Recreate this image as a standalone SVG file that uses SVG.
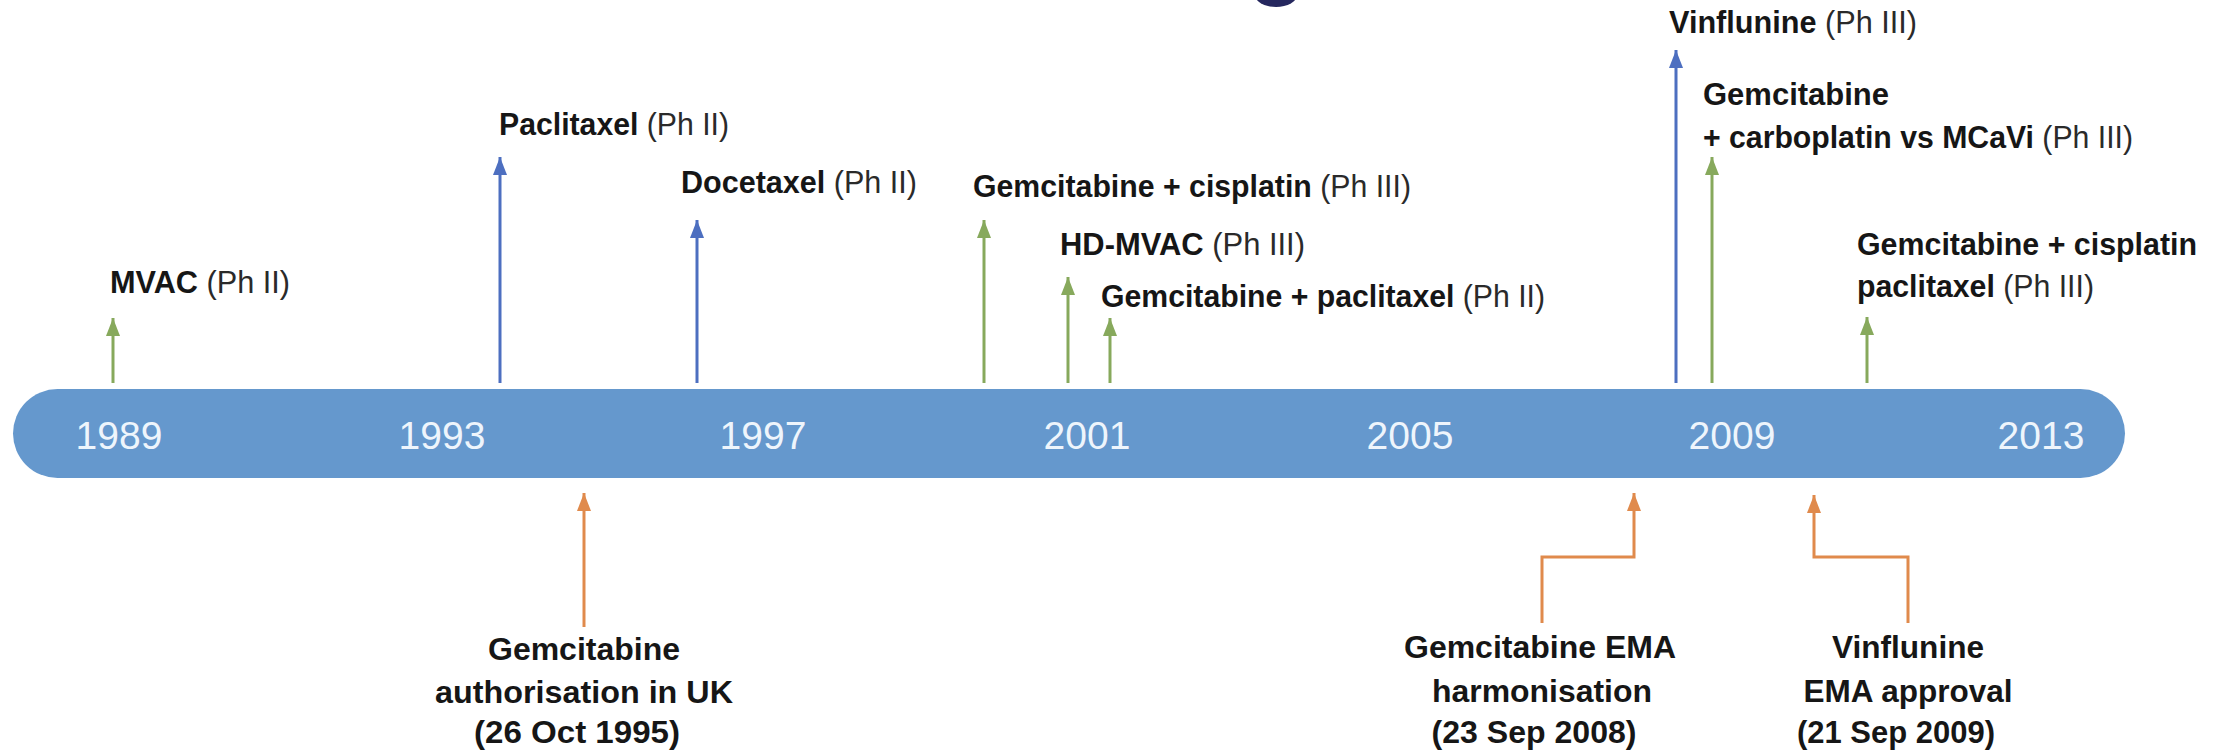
<svg xmlns="http://www.w3.org/2000/svg" width="2220" height="752" viewBox="0 0 2220 752">
<style>
.lbl{font-family:"Liberation Sans",Arial,sans-serif;font-size:31px;fill:#161616}
.b{font-weight:bold}
.r{font-weight:normal;fill:#2a2a2a}
.yr{font-family:"Liberation Sans",Arial,sans-serif;font-size:39px;fill:#eef5fc;text-anchor:middle}
.g{stroke:#87a95c;stroke-width:3;fill:none}
.bl{stroke:#4d6fc0;stroke-width:3;fill:none}
.o{stroke:#e08a4c;stroke-width:3;fill:none}
.mid{text-anchor:middle}
</style>
<defs>
<marker id="mg" markerUnits="userSpaceOnUse" markerWidth="18" markerHeight="14" refX="18" refY="7" orient="auto"><path d="M0,0 L18,7 L0,14 z" fill="#87a95c"/></marker>
<marker id="mb" markerUnits="userSpaceOnUse" markerWidth="18" markerHeight="14" refX="18" refY="7" orient="auto"><path d="M0,0 L18,7 L0,14 z" fill="#4d6fc0"/></marker>
<marker id="mo" markerUnits="userSpaceOnUse" markerWidth="18" markerHeight="14" refX="18" refY="7" orient="auto"><path d="M0,0 L18,7 L0,14 z" fill="#e08a4c"/></marker>
</defs>
<rect width="2220" height="752" fill="#ffffff"/>
<ellipse cx="1276" cy="-5" rx="21" ry="12" fill="#25275e"/>

<g id="timeline">
<rect x="13" y="389" width="2112" height="89" rx="44.5" fill="#6598cd"/>
<text class="yr" x="119" y="449">1989</text>
<text class="yr" x="442" y="449">1993</text>
<text class="yr" x="763" y="449">1997</text>
<text class="yr" x="1087" y="449">2001</text>
<text class="yr" x="1410" y="449">2005</text>
<text class="yr" x="1732" y="449">2009</text>
<text class="yr" x="2041" y="449">2013</text>
</g>

<g id="connectors">
<line class="g" x1="113" y1="383" x2="113" y2="318" marker-end="url(#mg)"/>
<line class="bl" x1="500" y1="383" x2="500" y2="157" marker-end="url(#mb)"/>
<line class="bl" x1="697" y1="383" x2="697" y2="220" marker-end="url(#mb)"/>
<line class="g" x1="984" y1="383" x2="984" y2="220" marker-end="url(#mg)"/>
<line class="g" x1="1068" y1="383" x2="1068" y2="277" marker-end="url(#mg)"/>
<line class="g" x1="1110" y1="383" x2="1110" y2="318" marker-end="url(#mg)"/>
<line class="bl" x1="1676" y1="383" x2="1676" y2="50" marker-end="url(#mb)"/>
<line class="g" x1="1712" y1="383" x2="1712" y2="157" marker-end="url(#mg)"/>
<line class="g" x1="1867" y1="383" x2="1867" y2="317" marker-end="url(#mg)"/>
<line class="o" x1="584" y1="627" x2="584" y2="493" marker-end="url(#mo)"/>
<polyline class="o" points="1542,623 1542,557 1634,557 1634,493" marker-end="url(#mo)"/>
<polyline class="o" points="1908,623 1908,557 1814,557 1814,495" marker-end="url(#mo)"/>
</g>

<g id="n-mvac"><text class="lbl" x="110" y="293" textLength="180" lengthAdjust="spacingAndGlyphs"><tspan class="b">MVAC</tspan><tspan class="r"> (Ph II)</tspan></text></g>
<g id="n-paclitaxel"><text class="lbl" x="499" y="135" textLength="230" lengthAdjust="spacingAndGlyphs"><tspan class="b">Paclitaxel</tspan><tspan class="r"> (Ph II)</tspan></text></g>
<g id="n-docetaxel"><text class="lbl" x="681" y="193" textLength="236" lengthAdjust="spacingAndGlyphs"><tspan class="b">Docetaxel</tspan><tspan class="r"> (Ph II)</tspan></text></g>
<g id="n-gemcis"><text class="lbl" x="973" y="197" textLength="438" lengthAdjust="spacingAndGlyphs"><tspan class="b">Gemcitabine + cisplatin</tspan><tspan class="r"> (Ph III)</tspan></text></g>
<g id="n-hdmvac"><text class="lbl" x="1060" y="255" textLength="245" lengthAdjust="spacingAndGlyphs"><tspan class="b">HD-MVAC</tspan><tspan class="r"> (Ph III)</tspan></text></g>
<g id="n-gempac"><text class="lbl" x="1101" y="307" textLength="444" lengthAdjust="spacingAndGlyphs"><tspan class="b">Gemcitabine + paclitaxel</tspan><tspan class="r"> (Ph II)</tspan></text></g>
<g id="n-vinflunine"><text class="lbl" x="1669" y="33" textLength="248" lengthAdjust="spacingAndGlyphs"><tspan class="b">Vinflunine</tspan><tspan class="r"> (Ph III)</tspan></text></g>
<g id="n-gemcarbo">
<text class="lbl b" x="1703" y="105" textLength="186" lengthAdjust="spacingAndGlyphs">Gemcitabine</text>
<text class="lbl" x="1703" y="148" textLength="430" lengthAdjust="spacingAndGlyphs"><tspan class="b">+ carboplatin vs MCaVi</tspan><tspan class="r"> (Ph III)</tspan></text>
</g>
<g id="n-gemcispac">
<text class="lbl b" x="1857" y="255" textLength="340" lengthAdjust="spacingAndGlyphs">Gemcitabine + cisplatin</text>
<text class="lbl" x="1857" y="297" textLength="237" lengthAdjust="spacingAndGlyphs"><tspan class="b">paclitaxel</tspan><tspan class="r"> (Ph III)</tspan></text>
</g>
<g id="n-gemuk">
<text class="lbl b mid" x="584" y="660" textLength="192" lengthAdjust="spacingAndGlyphs">Gemcitabine</text>
<text class="lbl b mid" x="584" y="703" textLength="298" lengthAdjust="spacingAndGlyphs">authorisation in UK</text>
<text class="lbl b mid" x="577" y="743" textLength="206" lengthAdjust="spacingAndGlyphs">(26 Oct 1995)</text>
</g>
<g id="n-gemema">
<text class="lbl b mid" x="1540" y="658" textLength="272" lengthAdjust="spacingAndGlyphs">Gemcitabine EMA</text>
<text class="lbl b mid" x="1542" y="702" textLength="220" lengthAdjust="spacingAndGlyphs">harmonisation</text>
<text class="lbl b mid" x="1534" y="743" textLength="205" lengthAdjust="spacingAndGlyphs">(23 Sep 2008)</text>
</g>
<g id="n-vinema">
<text class="lbl b mid" x="1908" y="658" textLength="152" lengthAdjust="spacingAndGlyphs">Vinflunine</text>
<text class="lbl b mid" x="1908" y="702" textLength="209" lengthAdjust="spacingAndGlyphs">EMA approval</text>
<text class="lbl b mid" x="1896" y="743" textLength="198" lengthAdjust="spacingAndGlyphs">(21 Sep 2009)</text>
</g>
</svg>
